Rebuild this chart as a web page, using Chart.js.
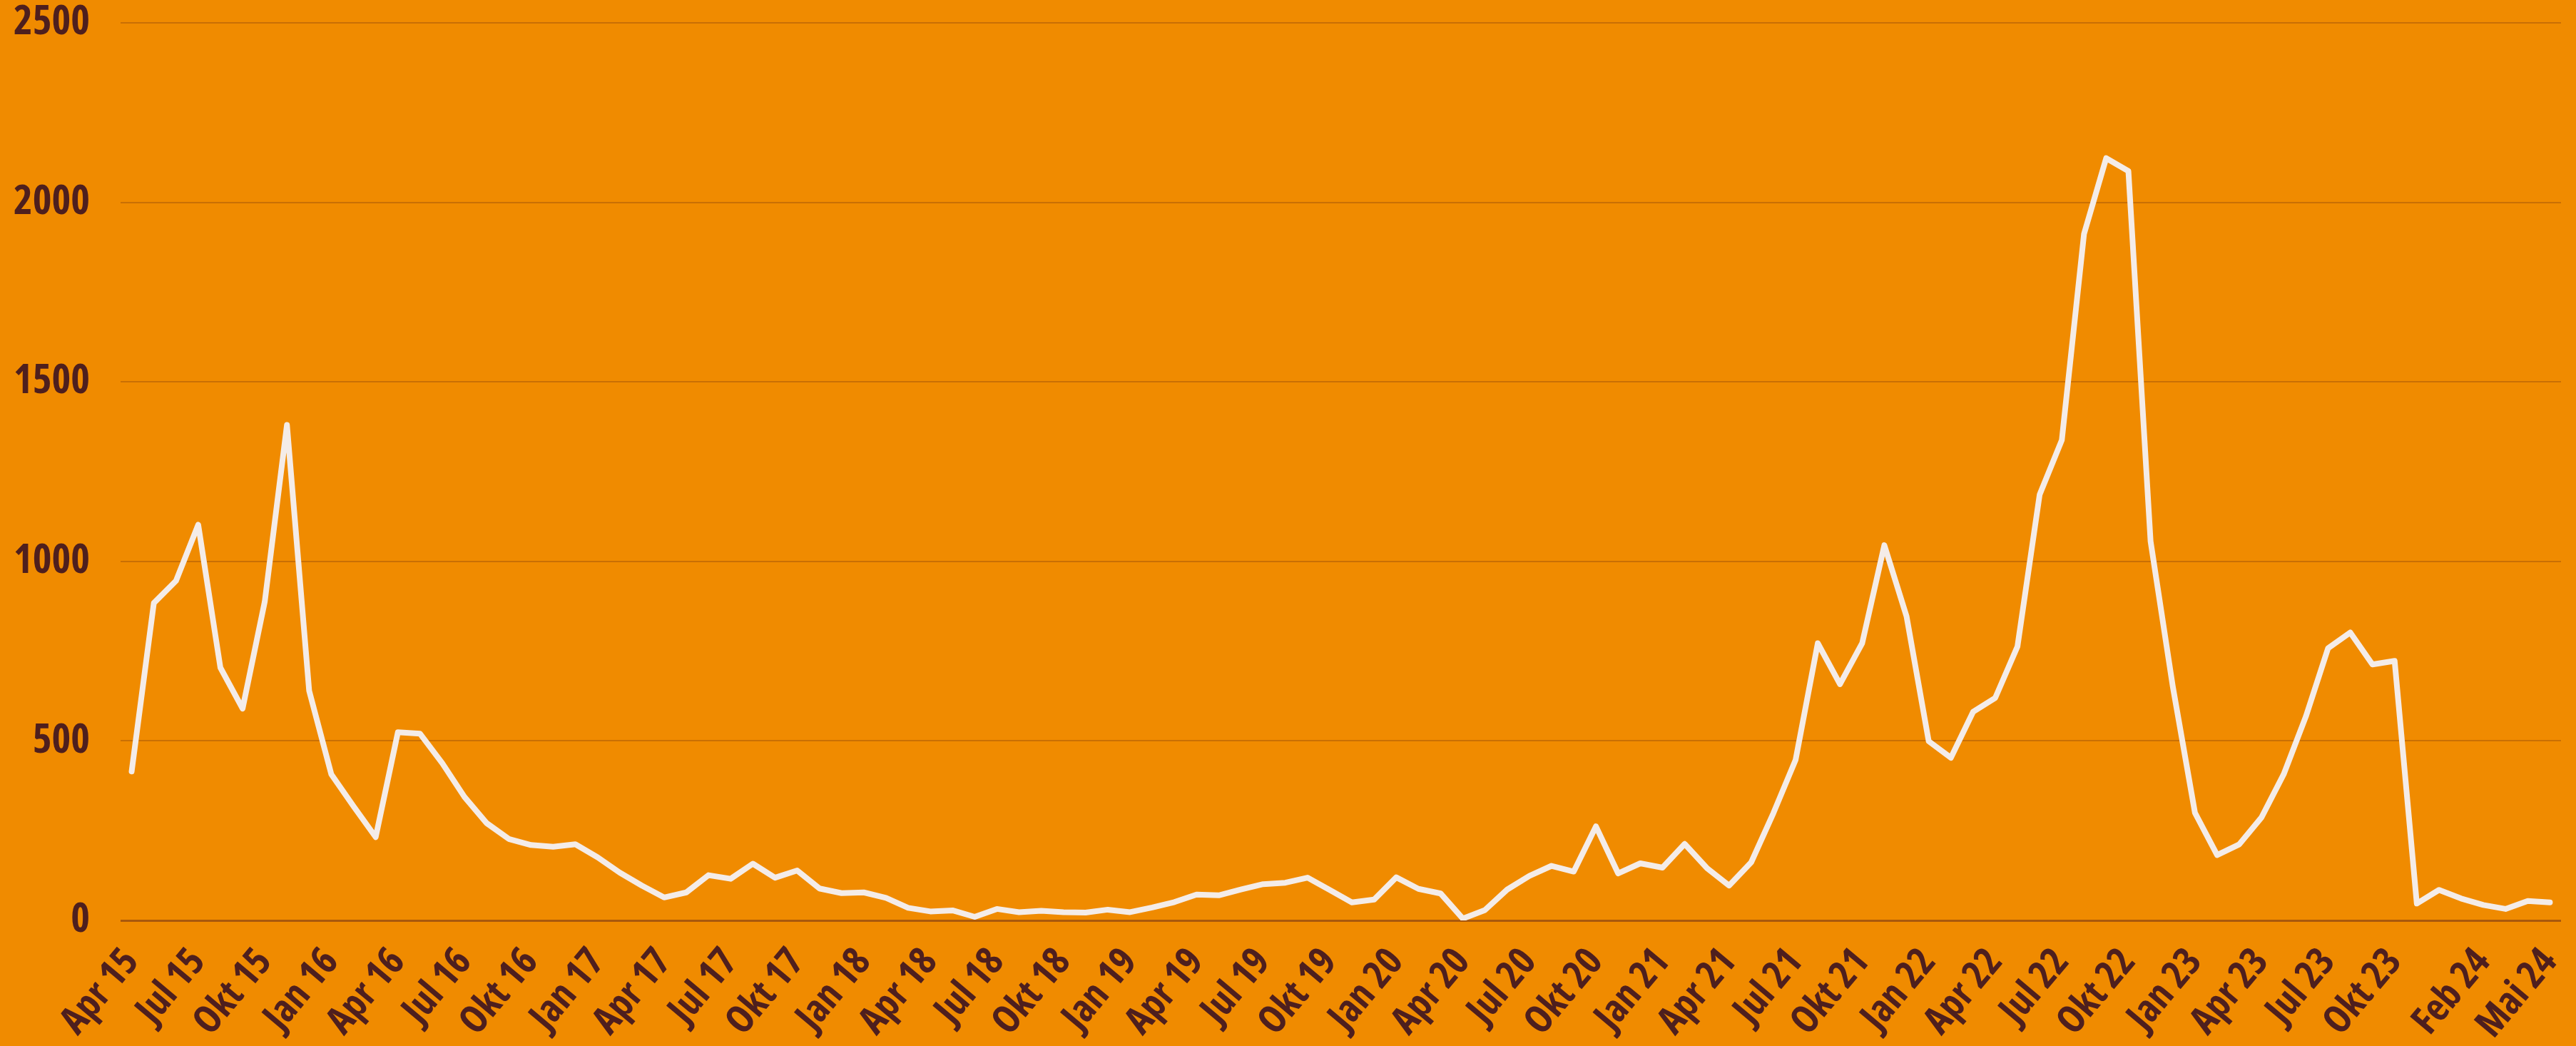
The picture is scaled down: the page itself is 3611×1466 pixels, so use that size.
<!DOCTYPE html>
<html>
<head>
<meta charset="utf-8">
<script src="https://cdn.jsdelivr.net/npm/chart.js@4.4.1/dist/chart.umd.min.js"></script>
<style>
  html, body { margin: 0; padding: 0; background: #F08B00; }
  #wrap { width: 3611px; height: 1466px; position: relative; }
  canvas { display: block; }
</style>
</head>
<body>
<div id="wrap"><canvas id="c" width="3611" height="1466"></canvas></div>
<script>
// Categories (monthly, Apr 2015 – Mai 2024)
const categories = [
  'Apr 15','Mai 15','Jun 15','Jul 15','Aug 15','Sep 15','Okt 15','Nov 15','Dez 15',
  'Jan 16','Feb 16','Mär 16','Apr 16','Mai 16','Jun 16','Jul 16','Aug 16','Sep 16','Okt 16','Nov 16','Dez 16',
  'Jan 17','Feb 17','Mär 17','Apr 17','Mai 17','Jun 17','Jul 17','Aug 17','Sep 17','Okt 17','Nov 17','Dez 17',
  'Jan 18','Feb 18','Mär 18','Apr 18','Mai 18','Jun 18','Jul 18','Aug 18','Sep 18','Okt 18','Nov 18','Dez 18',
  'Jan 19','Feb 19','Mär 19','Apr 19','Mai 19','Jun 19','Jul 19','Aug 19','Sep 19','Okt 19','Nov 19','Dez 19',
  'Jan 20','Feb 20','Mär 20','Apr 20','Mai 20','Jun 20','Jul 20','Aug 20','Sep 20','Okt 20','Nov 20','Dez 20',
  'Jan 21','Feb 21','Mär 21','Apr 21','Mai 21','Jun 21','Jul 21','Aug 21','Sep 21','Okt 21','Nov 21','Dez 21',
  'Jan 22','Feb 22','Mär 22','Apr 22','Mai 22','Jun 22','Jul 22','Aug 22','Sep 22','Okt 22','Nov 22','Dez 22',
  'Jan 23','Feb 23','Mär 23','Apr 23','Mai 23','Jun 23','Jul 23','Aug 23','Sep 23','Okt 23','Nov 23','Dez 23',
  'Jan 24','Feb 24','Mär 24','Apr 24','Mai 24'
];

// Series values
const values = [
  415, 884, 946, 1102, 704, 590, 888, 1380, 640,
  407, 318, 232, 524, 520, 438, 344, 271, 227, 210, 205, 212,
  176, 133, 97, 64, 78, 126, 116, 158, 119, 139, 89, 76,
  78, 63, 35, 25, 28, 10, 32, 23, 27, 23, 22, 30,
  23, 36, 51, 72, 70, 86, 101, 105, 119, 85, 50, 58,
  120, 88, 75, 5, 29, 86, 124, 152, 136, 262, 131, 159,
  147, 213, 146, 97, 162, 299, 447, 772, 658, 772, 1045, 847,
  499, 453, 581, 620, 763, 1186, 1338, 1912, 2123, 2087, 1056, 652,
  300, 182, 212, 287, 407, 568, 758, 802, 713, 723, 47, 85,
  61, 43, 32, 54, 50
];

// Tick labels shown on the x axis
const xTickLabels = [
  'Apr 15','Jul 15','Okt 15','Jan 16','Apr 16','Jul 16','Okt 16','Jan 17','Apr 17','Jul 17','Okt 17',
  'Jan 18','Apr 18','Jul 18','Okt 18','Jan 19','Apr 19','Jul 19','Okt 19','Jan 20','Apr 20','Jul 20','Okt 20',
  'Jan 21','Apr 21','Jul 21','Okt 21','Jan 22','Apr 22','Jul 22','Okt 22','Jan 23','Apr 23','Jul 23','Okt 23',
  'Feb 24','Mai 24'
];

// Y axis ticks
const yMin = 0, yMax = 2500, yStep = 500;

const labelColor = '#4E1F1E';

// Pick a narrow bold face that is actually installed.
// The stretch keyword is carried in the weight part of the font string
// (Chart.js only accepts normal/italic/oblique as "style").
function pickFont() {
  const ctx = document.createElement('canvas').getContext('2d');
  const sample = '2500 Apr Okt Jul Jan 15';
  const w = (f) => { ctx.font = f; return ctx.measureText(sample).width; };
  const mono = w('bold 58px monospace');
  const osN = w('bold 58px "Open Sans", monospace');
  const osC = w('bold condensed 58px "Open Sans", monospace');
  const osS = w('bold semi-condensed 58px "Open Sans", monospace');
  if (Math.abs(osN - mono) > 0.5 && osC < osN - 2) {
    return { family: '"Open Sans", sans-serif', yWeight: 'bold condensed',
             xWeight: (osS < osN - 1 && osS > osC + 1) ? 'bold semi-condensed' : 'bold condensed' };
  }
  const cands = ['"Open Sans Condensed"', '"Liberation Sans Narrow"', '"Roboto Condensed"', '"DejaVu Sans Condensed"'];
  for (const f of cands) {
    if (Math.abs(w('bold 58px ' + f + ', monospace') - mono) > 0.5) return { family: f + ', sans-serif', yWeight: 'bold', xWeight: 'bold' };
  }
  return { family: '"DejaVu Sans Condensed", sans-serif', yWeight: 'bold', xWeight: 'bold' };
}
const pf = pickFont();
function sizeFor(text, weight, target, base, lo, hi) {
  const ctx = document.createElement('canvas').getContext('2d');
  ctx.font = weight + ' ' + base + 'px ' + pf.family;
  const s = base * target / ctx.measureText(text).width;
  return Math.max(lo, Math.min(hi, s));
}
const ySize = sizeFor('2500', pf.yWeight, 107, 58, 46, 62);
const xSize = sizeFor('Apr 15', pf.xWeight, 136, 60, 50, 70);

new Chart(document.getElementById('c'), {
  type: 'line',
  data: {
    labels: categories,
    datasets: [{
      data: values,
      borderColor: '#F4ECE8',
      borderWidth: 8,
      pointRadius: 0,
      pointHoverRadius: 0,
      tension: 0,
      fill: false,
      borderJoinStyle: 'round',
      borderCapStyle: 'round'
    }]
  },
  options: {
    responsive: false,
    devicePixelRatio: 1,
    animation: false,
    events: [],
    layout: { padding: { top: 0, left: 0, right: 21, bottom: 0 } },
    plugins: { legend: { display: false }, tooltip: { enabled: false }, title: { display: false } },
    scales: {
      x: {
        type: 'category',
        offset: true,
        grid: { display: false, drawTicks: true, tickLength: 22 },
        border: { display: false },
        afterFit: (s) => { s.height = 176; s.paddingLeft = 0; s.paddingRight = 0; },
        ticks: {
          autoSkip: false,
          minRotation: 50,
          maxRotation: 50,
          padding: 0,
          color: labelColor,
          font: { family: pf.family, size: xSize, weight: pf.xWeight, lineHeight: 1.5 },
          callback: function(value, index) {
            const l = categories[index];
            return xTickLabels.includes(l) ? l : '';
          }
        }
      },
      y: {
        min: yMin,
        max: yMax,
        afterFit: (s) => { s.width = 169; s.paddingTop = 32; s.paddingBottom = 0; },
        grid: {
          drawTicks: false,
          color: (ctx) => (ctx.tick && ctx.tick.value === 0) ? '#A9580C' : '#C96F04',
          lineWidth: (ctx) => (ctx.tick && ctx.tick.value === 0) ? 3 : 2
        },
        border: { display: false },
        ticks: {
          stepSize: yStep,
          padding: 43,
          color: labelColor,
          font: { family: pf.family, size: ySize, weight: pf.yWeight, lineHeight: 1.1 },
          callback: (v) => String(v)
        }
      }
    }
  }
});
</script>
</body>
</html>
